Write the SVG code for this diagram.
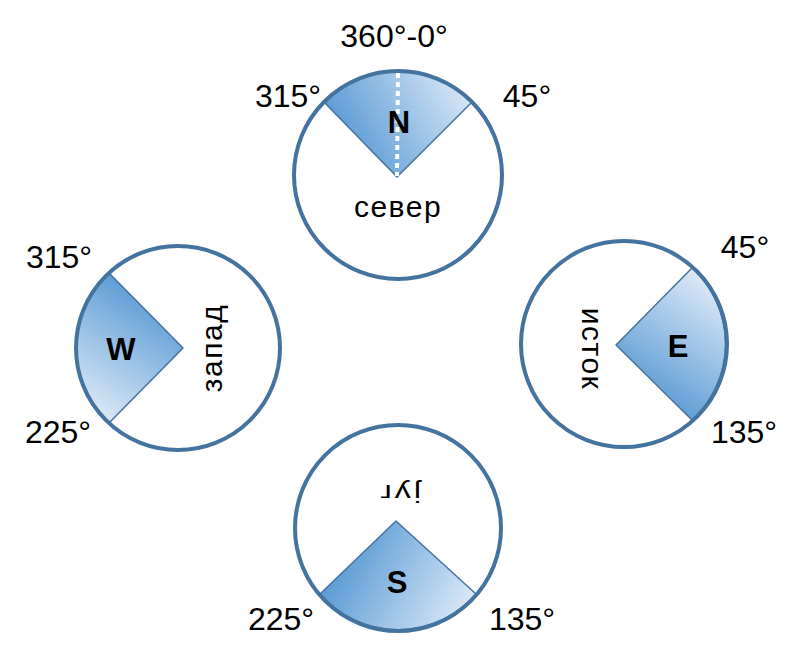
<svg xmlns="http://www.w3.org/2000/svg" width="802" height="665" viewBox="0 0 802 665">
  <style>
    .ring { fill: none; stroke: #44739f; stroke-width: 4; }
    .bg { fill: #ffffff; }
    .sector { stroke: #44739f; stroke-width: 1.5; stroke-linejoin: round; }
    .deg { font-family: "Liberation Sans", Arial, sans-serif; font-size: 32px; fill: #000; text-anchor: middle; }
    .dir { font-family: "Liberation Sans", Arial, sans-serif; font-size: 31px; font-weight: bold; fill: #000; text-anchor: middle; }
    .word { font-family: "Liberation Sans", Arial, sans-serif; font-size: 30px; fill: #000; text-anchor: middle; letter-spacing: 1.5px; }
  </style>
  <defs>
    <linearGradient id="gN" gradientUnits="userSpaceOnUse" x1="335" y1="150" x2="470" y2="75">
      <stop offset="0" stop-color="#5094d2"/>
      <stop offset="1" stop-color="#e2edf8"/>
    </linearGradient>
    <linearGradient id="gW" gradientUnits="userSpaceOnUse" x1="170" y1="295" x2="90" y2="420">
      <stop offset="0" stop-color="#5094d2"/>
      <stop offset="1" stop-color="#e2edf8"/>
    </linearGradient>
    <linearGradient id="gE" gradientUnits="userSpaceOnUse" x1="640" y1="405" x2="725" y2="285">
      <stop offset="0" stop-color="#5094d2"/>
      <stop offset="1" stop-color="#e2edf8"/>
    </linearGradient>
    <linearGradient id="gS" gradientUnits="userSpaceOnUse" x1="330" y1="555" x2="465" y2="630">
      <stop offset="0" stop-color="#5094d2"/>
      <stop offset="1" stop-color="#e2edf8"/>
    </linearGradient>
  </defs>

  <g id="node-north">
    <circle class="bg" cx="398" cy="175" r="104"/>
    <path class="sector" fill="url(#gN)" d="M397,177 L324,102 A104,104 0 0 1 472,102 Z"/>
    <line x1="398" y1="73" x2="397" y2="176" stroke="#ffffff" stroke-width="4" stroke-dasharray="5 4"/>
    <circle class="ring" cx="398" cy="175" r="104"/>
    <text class="dir" x="399" y="133">N</text>
    <text class="word" x="398" y="217">север</text>
    <text class="deg" x="394" y="47">360°-0°</text>
    <text class="deg" x="288" y="107">315°</text>
    <text class="deg" x="527" y="107">45°</text>
  </g>

  <g id="node-west">
    <circle class="bg" cx="178" cy="348" r="102"/>
    <path class="sector" fill="url(#gW)" d="M183,348 L109,273 A102,102 0 0 0 109,423 Z"/>
    <circle class="ring" cx="178" cy="348" r="102"/>
    <text class="dir" x="121" y="360">W</text>
    <text class="word" transform="translate(222,348) rotate(-90)" x="0" y="0">запад</text>
    <text class="deg" x="59" y="268">315°</text>
    <text class="deg" x="58" y="443">225°</text>
  </g>

  <g id="node-east">
    <circle class="bg" cx="624" cy="344" r="103"/>
    <path class="sector" fill="url(#gE)" d="M616,345 L692,268 A103,103 0 0 1 692,420 Z"/>
    <circle class="ring" cx="624" cy="344" r="103"/>
    <text class="dir" x="678" y="357">E</text>
    <text class="word" transform="translate(582,349) rotate(90)" x="0" y="0">исток</text>
    <text class="deg" x="745" y="258">45°</text>
    <text class="deg" x="744" y="443">135°</text>
  </g>

  <g id="node-south">
    <circle class="bg" cx="398" cy="528" r="103"/>
    <path class="sector" fill="url(#gS)" d="M396,521 L320,594 A103,103 0 0 0 476,594 Z"/>
    <circle class="ring" cx="398" cy="528" r="103"/>
    <text class="dir" x="397" y="593">S</text>
    <text class="word" transform="translate(399,485) rotate(180) scale(1,0.75)" x="0" y="0" style="font-size:32px;letter-spacing:3px">југ</text>
    <text class="deg" x="281" y="630">225°</text>
    <text class="deg" x="522" y="630">135°</text>
  </g>
</svg>
